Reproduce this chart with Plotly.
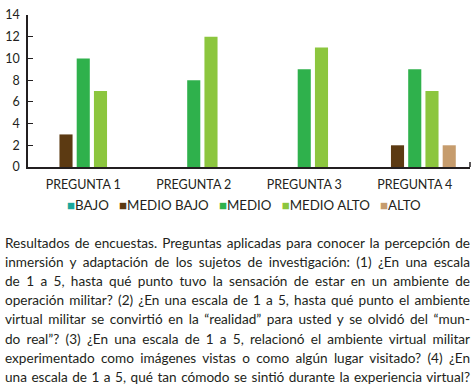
import plotly.graph_objects as go

categories = ["PREGUNTA 1", "PREGUNTA 2", "PREGUNTA 3", "PREGUNTA 4"]
series_names = ["BAJO", "MEDIO BAJO", "MEDIO", "MEDIO ALTO", "ALTO"]
bajo = [0, 0, 0, 0]
medio_bajo = [3, 0, 0, 2]
medio = [10, 8, 9, 9]
medio_alto = [7, 12, 11, 7]
alto = [0, 0, 0, 2]
series_values = [bajo, medio_bajo, medio, medio_alto, alto]
colors = ["#1aa79c", "#5c3a12", "#2fb14c", "#8cc63e", "#c69c6d"]
y_ticks = [0, 2, 4, 6, 8, 10, 12, 14]

caption_lines = [
    "Resultados de encuestas. Preguntas aplicadas para conocer la percepción de",
    "inmersión y adaptación de los sujetos de investigación: (1) ¿En una escala",
    "de 1 a 5, hasta qué punto tuvo la sensación de estar en un ambiente de",
    "operación militar? (2) ¿En una escala de 1 a 5, hasta qué punto el ambiente",
    "virtual militar se convirtió en la “realidad” para usted y se olvidó del “mun-",
    "do real”? (3) ¿En una escala de 1 a 5, relacionó el ambiente virtual militar",
    "experimentado como imágenes vistas o como algún lugar visitado? (4) ¿En",
    "una escala de 1 a 5, qué tan cómodo se sintió durante la experiencia virtual?",
]

FONT = "Lato"
TEXT = "#231f20"

fig = go.Figure()
for name, vals, col in zip(series_names, series_values, colors):
    fig.add_trace(go.Bar(x=categories, y=vals, name=name, marker_color=col,
                         marker_line_width=0, showlegend=False))

W, H = 472, 390
L, R, T, B = 28, 2, 15, 223
PH = H - T - B


def py(pixel_y):
    return -(pixel_y - (H - B)) / PH


def px(pixel_x):
    return (pixel_x - L) / (W - L - R)


annotations = []
legend_parts = []
for name, col in zip(series_names, colors):
    legend_parts.append(f"<span style='color:{col}'>■</span>{name}")
annotations.append(dict(
    text="&nbsp;&nbsp;&nbsp;".join(legend_parts), xref="paper", yref="paper",
    x=px(244), xanchor="center", y=py(205), yanchor="middle", showarrow=False,
    font=dict(family=FONT, size=13.3, color=TEXT),
))

for i, line in enumerate(caption_lines):
    annotations.append(dict(
        text=line, xref="paper", yref="paper", align="left",
        x=px(3), xanchor="left",
        y=py(243 + 19.1 * i), yanchor="middle",
        showarrow=False, font=dict(family=FONT, size=13.6, color=TEXT),
    ))

fig.add_shape(type="line", xref="paper", yref="paper", x0=1, x1=1, y0=0,
              y1=5 / PH, line=dict(color=TEXT, width=1.5))

fig.update_layout(
    width=W, height=H,
    margin=dict(l=L, r=R, t=T, b=B, pad=0, autoexpand=False),
    paper_bgcolor="white", plot_bgcolor="white",
    barmode="group", bargap=0.22, bargroupgap=0.24,
    font=dict(family=FONT, color=TEXT, size=12),
    showlegend=False,
    annotations=annotations,
    xaxis=dict(showline=True, linecolor=TEXT, linewidth=1.5, ticks="",
               tickfont=dict(size=12.5, color=TEXT), showgrid=False,
               automargin=False, ticklabelstandoff=5),
    yaxis=dict(range=[0, 14], tickvals=y_ticks, showline=True, linecolor=TEXT,
               linewidth=1.5, ticks="inside", ticklen=5, tickcolor=TEXT,
               tickfont=dict(size=12.5, color=TEXT), showgrid=False, zeroline=False,
               ticklabelstandoff=4, automargin=False),
)

# remove default page margin and justify the caption lines (like the reference)
post = """
document.body.style.margin = '0';
var target = 465;
var els = document.querySelectorAll('.annotation-text');
for (var i = 1; i < els.length; i++) {
  var el = els[i];
  var len = el.getComputedTextLength();
  var n = (el.textContent.match(/ /g) || []).length;
  if (n > 0 && len < target) {
    el.style.wordSpacing = ((target - len) / n) + 'px';
  }
}
"""

fig.write_html("out.html", post_script=post, config={"displayModeBar": False})
